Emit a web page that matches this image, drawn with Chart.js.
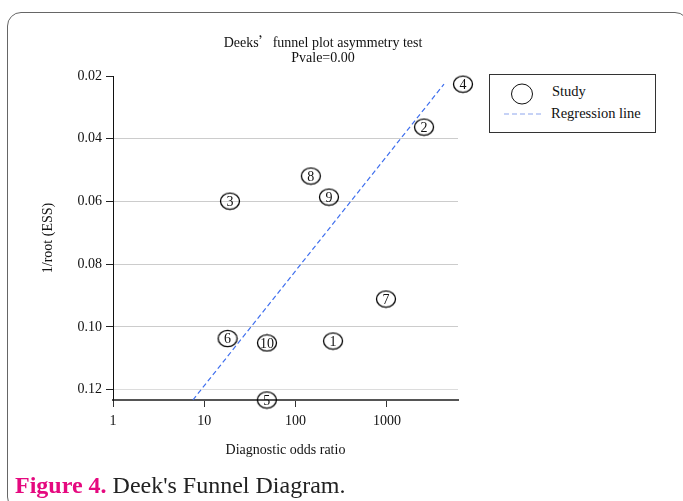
<!DOCTYPE html>
<html>
<head>
<meta charset="utf-8">
<script src="https://cdn.jsdelivr.net/npm/chart.js@4"></script>
<style>
  html, body { margin:0; padding:0; background:#fff; }
  body { width:683px; height:501px; overflow:hidden; position:relative; font-family:"Liberation Serif","Times New Roman",serif; }
  #frame { position:absolute; left:7px; top:12px; width:682px; height:499px; border:1.5px solid #666; border-radius:14px; box-sizing:border-box; }
  #wrap { position:absolute; left:0; top:0; width:683px; height:501px; }
  .title { position:absolute; left:0; width:646px; text-align:center; font-size:14px; color:#111; line-height:16px; }
  #legend { position:absolute; left:489px; top:74px; width:167px; height:59px; border:1px solid #333; box-sizing:border-box; background:#fff; }
  #legend .txt { position:absolute; font-size:14.5px; color:#111; line-height:16px; white-space:nowrap; }
  #caption { position:absolute; left:15px; top:471px; font-size:24px; line-height:28px; color:#222; white-space:nowrap; }
  #caption b { color:#e5097f; }
</style>
</head>
<body>
<div id="frame"></div>
<div id="wrap"><canvas id="c" width="683" height="501"></canvas></div>
<div class="title" style="top:33px">Deeks<span style="font-family:'Noto Sans CJK SC'">’</span>funnel plot asymmetry test</div>
<div class="title" style="top:50px">Pvale=0.00</div>
<div id="legend">
  <svg width="167" height="59" style="position:absolute;left:0;top:0">
    <ellipse cx="32" cy="19" rx="10.5" ry="10" fill="none" stroke="#111" stroke-width="1"/>
    <line x1="14" y1="39" x2="53" y2="39" stroke="#8ea6ee" stroke-width="1.2" stroke-dasharray="5,3"/>
  </svg>
  <div class="txt" style="left:62px;top:8px">Study</div>
  <div class="txt" style="left:61px;top:30px">Regression line</div>
</div>
<div id="caption"><b>Figure 4.</b> Deek's Funnel Diagram.</div>
<script>
// ---- data ----
const studyIds = [1, 2, 3, 4, 5, 6, 7, 8, 9, 10];
const diagnosticOddsRatio = [257, 2550, 19.1, 6810, 48.4, 18.0, 977, 147, 232, 48.6];
const invRootEss = [0.1045, 0.0363, 0.0599, 0.0226, 0.1233, 0.1037, 0.0911, 0.0519, 0.0586, 0.1051];
const regressionX = [7.5, 4220];
const regressionY = [0.1233, 0.0226];
const xTicks = [1, 10, 100, 1000];
const yTicks = [0.02, 0.04, 0.06, 0.08, 0.10, 0.12];
const xRange = [1, 6010];
const yRange = [0.02, 0.1233];

const studyPoints = diagnosticOddsRatio.map((x, i) => ({ x: x, y: invRootEss[i], id: studyIds[i] }));
const regressionPoints = regressionX.map((x, i) => ({ x: x, y: regressionY[i] }));

const FONT = "'Liberation Serif', 'Times New Roman', serif";

// elliptical marker (slightly wider than tall, as in the reference)
const marker = document.createElement('canvas');
marker.width = 22; marker.height = 19;
(function () {
  const m = marker.getContext('2d');
  m.strokeStyle = '#000';
  m.lineWidth = 1.3;
  m.beginPath();
  m.ellipse(11, 9.5, 9.5, 8.2, 0, 0, Math.PI * 2);
  m.stroke();
})();

const idLabels = {
  id: 'idLabels',
  afterDatasetsDraw(chart) {
    const meta = chart.getDatasetMeta(1);
    const ctx = chart.ctx;
    ctx.save();
    ctx.font = "14px " + FONT;
    ctx.fillStyle = '#111';
    ctx.textAlign = 'center';
    ctx.textBaseline = 'middle';
    meta.data.forEach((el, i) => {
      ctx.fillText(String(studyPoints[i].id), el.x, el.y + 1);
    });
    ctx.restore();
  }
};

new Chart(document.getElementById('c'), {
  type: 'scatter',
  data: {
    datasets: [
      {
        label: 'Regression line',
        data: regressionPoints,
        showLine: true,
        borderColor: '#3f6fee',
        borderWidth: 1.2,
        borderDash: [5, 3],
        pointRadius: 0,
        fill: false,
        clip: false
      },
      {
        label: 'Study',
        data: studyPoints,
        pointStyle: marker,
        pointRadius: 9,
        pointHoverRadius: 9,
        clip: false
      }
    ]
  },
  options: {
    responsive: false,
    animation: false,
    events: [],
    layout: { padding: { left: 37, right: 225, top: 76, bottom: 39 } },
    plugins: { legend: { display: false }, tooltip: { enabled: false }, title: { display: false } },
    scales: {
      x: {
        type: 'logarithmic',
        min: xRange[0],
        max: xRange[1],
        afterBuildTicks: (s) => { s.ticks = xTicks.map(v => ({ value: v })); },
        afterFit: (s) => { s.height = 62; },
        ticks: {
          font: { family: FONT, size: 14 },
          color: '#111',
          padding: 6,
          maxRotation: 0,
          autoSkip: false,
          callback: (v) => String(v)
        },
        grid: { drawOnChartArea: false, drawTicks: true, tickLength: 7, tickColor: '#333', tickWidth: 1 },
        border: { color: '#555', width: 2 },
        title: { display: true, text: 'Diagnostic odds ratio', font: { family: FONT, size: 14 }, color: '#111', padding: { top: 4, bottom: 3 } }
      },
      y: {
        type: 'linear',
        reverse: true,
        min: yRange[0],
        max: yRange[1],
        afterBuildTicks: (s) => { s.ticks = yTicks.map(v => ({ value: v })); },
        afterFit: (s) => { s.width = 76; },
        ticks: {
          font: { family: FONT, size: 14 },
          color: '#111',
          padding: 4,
          autoSkip: false,
          callback: (v) => Number(v).toFixed(2)
        },
        grid: {
          drawOnChartArea: true,
          tickLength: 7,
          tickColor: '#222',
          lineWidth: 1,
          color: (c) => {
            const v = c.tick ? c.tick.value : null;
            if (v === yTicks[0]) return 'rgba(0,0,0,0)';
            if (v === yTicks[yTicks.length - 1]) return '#dcdcdc';
            return '#cccccc';
          }
        },
        border: { color: '#111', width: 1 },
        title: { display: true, text: '1/root (ESS)', font: { family: FONT, size: 14 }, color: '#111', padding: { top: 3, bottom: 4 } }
      }
    }
  },
  plugins: [idLabels]
});
</script>
</body>
</html>
